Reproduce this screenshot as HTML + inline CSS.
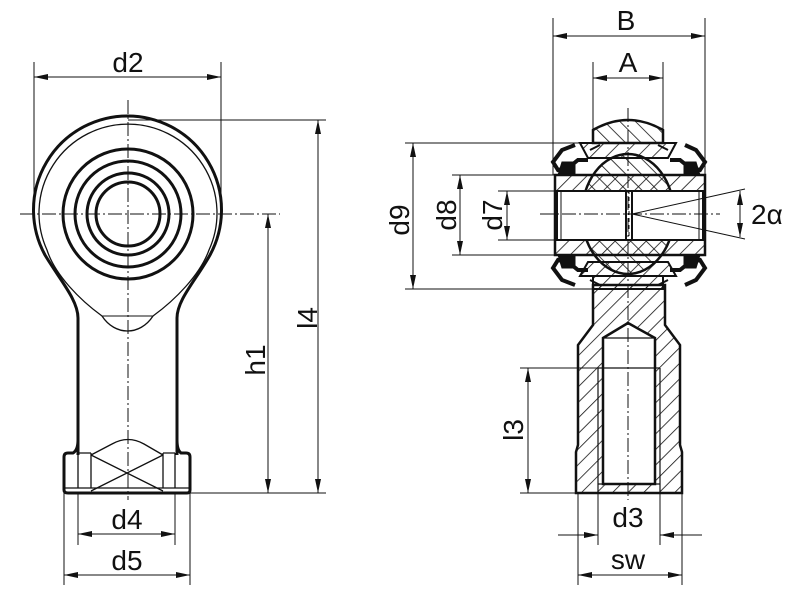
<!DOCTYPE html>
<html><head><meta charset="utf-8"><style>
html,body{margin:0;padding:0;background:#fff;}
svg{display:block;}
text{font-family:"Liberation Sans",sans-serif;font-size:28px;fill:#111;}
</style></head><body>
<svg width="800" height="596" viewBox="0 0 800 596" xmlns="http://www.w3.org/2000/svg">
<defs>
<pattern id="h1" width="11" height="11" patternUnits="userSpaceOnUse" patternTransform="rotate(45)"><line x1="0" y1="0" x2="0" y2="11" stroke="#111" stroke-width="1.6"/></pattern>
<pattern id="h2" width="11" height="11" patternUnits="userSpaceOnUse" patternTransform="rotate(-45)"><line x1="0" y1="0" x2="0" y2="11" stroke="#111" stroke-width="1.6"/></pattern>
<marker id="a" viewBox="0 0 14 6" refX="14" refY="3" markerWidth="14" markerHeight="6" markerUnits="userSpaceOnUse" orient="auto-start-reverse"><path d="M0,0 L14,3 L0,6 z" fill="#111"/></marker>
</defs>
<g fill="none" stroke="#111">
<!-- LEFT VIEW -->
<path d="M78,318 L78,455 M177,318 L177,455" stroke-width="3"/>
<path d="M78,318 C78,300 60,280 45,255 A94,94 0 1 1 210,255 C196,280 177,300 177,318" stroke-width="3"/>
<path d="M102,316 C80,300 55,275 47,250 A89,89 0 1 1 209,250 C200,275 175,300 153,316 C140,336 115,336 102,316 Z" stroke-width="1.3"/>
<line x1="102" y1="316" x2="153" y2="316" stroke-width="1"/>
<circle cx="128" cy="214" r="65" stroke-width="3"/>
<circle cx="128" cy="214" r="53" stroke-width="3"/>
<circle cx="128" cy="214" r="41" stroke-width="3"/>
<circle cx="128" cy="214" r="32" stroke-width="3"/>
<path d="M64,457 L64,490 Q64,493 68,493 L187,493 Q190,493 190,490 L190,457 Q190,453 186,453 L181,453 Q177,450 177,440 M64,457 Q64,453 68,453 L73,453 Q78,450 78,440" stroke-width="3"/>
<path d="M78,453 L78,488 M91,453 L91,488 M163,453 L163,488 M175,453 L175,488 M64,488 L190,488 M78,453 L91,453 M163,453 L175,453" stroke-width="1.3"/>
<path d="M91,455 L112,444 Q128,435 144,444 L163,455 M91,455 L163,491 M163,455 L91,491" stroke-width="1.3"/>
<path d="M128,100 L128,500 M20,214 L280,214" stroke-width="1" stroke-dasharray="14,3,2,3"/>
<path d="M34,62 L34,214 M221,62 L221,214" stroke-width="1"/>
<line x1="34" y1="77" x2="221" y2="77" stroke-width="1" marker-start="url(#a)" marker-end="url(#a)"/>
<path d="M128,120 L326,120 M190,493 L326,493" stroke-width="1"/>
<line x1="318" y1="120" x2="318" y2="493" stroke-width="1" marker-start="url(#a)" marker-end="url(#a)"/>
<line x1="268" y1="214" x2="268" y2="493" stroke-width="1" marker-start="url(#a)" marker-end="url(#a)"/>
<path d="M78,493 L78,545 M175,493 L175,545 M64,493 L64,585 M190,493 L190,585" stroke-width="1"/>
<line x1="78" y1="534" x2="175" y2="534" stroke-width="1" marker-start="url(#a)" marker-end="url(#a)"/>
<line x1="64" y1="575" x2="190" y2="575" stroke-width="1" marker-start="url(#a)" marker-end="url(#a)"/>

<!-- RIGHT VIEW -->
<path d="M593,285 L593,325 L578,345 L578,445 L576,452 L576,493 L682,493 L682,452 L680,445 L680,345 L665,325 L665,285 Z" fill="url(#h1)" stroke-width="2.5"/>
<path d="M603,484 L603,338 L628,323 L655,338 L655,484 Z" fill="#fff" stroke-width="2.5"/>
<path d="M598,368 L598,493 M660,368 L660,493 M598,368 L660,368 M603,338 L655,338 M598,484 L660,484" stroke-width="1.2"/>
<!-- top cap -->
<path d="M593,143 L593,130 Q628,110 663,130 L663,143 Z" fill="url(#h2)" stroke-width="2.5"/>
<!-- bottom cap -->
<path d="M593,276 L663,276 L663,289 L593,289 Z" fill="url(#h1)" stroke-width="2"/>
<!-- race top/bottom -->
<path d="M580,143 L676,143 L668,158 L588,158 Z" fill="url(#h1)" stroke-width="2"/>
<path d="M580,276 L676,276 L668,262 L588,262 Z" fill="url(#h1)" stroke-width="2"/>
<!-- ball -->
<ellipse cx="628" cy="214" rx="46" ry="60" fill="url(#h2)" stroke-width="2.5"/>
<!-- seals -->
<path d="M575,145 L562,150 L553,162 L558,170 L568,168 L578,160 L588,160 M685,145 L696,150 L705,162 L700,170 L690,168 L680,160 L670,160 M575,285 L562,280 L553,268 L558,260 L568,262 L578,270 L588,270 M685,285 L696,280 L705,268 L700,260 L690,262 L680,270 L670,270" stroke-width="4"/>
<path d="M558,175 L562,162 L575,162 L575,175 Z M700,175 L696,162 L684,162 L684,175 Z M558,255 L562,268 L575,268 L575,255 Z M700,255 L696,268 L684,268 L684,255 Z" fill="#111" stroke-width="1"/>
<path d="M590,150 L600,145 M668,150 L658,145 M590,280 L600,285 M668,280 L658,285" stroke-width="2"/>
<!-- inner ring -->
<rect x="555" y="175" width="150" height="80" fill="url(#h1)" stroke-width="2.5"/>
<rect x="557" y="191" width="146" height="49" fill="#fff" stroke-width="2"/>
<path d="M561,191 L561,240 M699,191 L699,240" stroke-width="1"/>
<path d="M626,191 L626,240 M632,191 L632,240" stroke-width="2"/>
<path d="M629,190 L629,240" stroke-width="1" stroke-dasharray="4,3"/>
<path d="M628,108 L628,500 M540,214 L720,214" stroke-width="1" stroke-dasharray="14,3,2,3"/>
<!-- dims right -->
<path d="M553,18 L553,175 M705,18 L705,175 M593,62 L593,143 M663,62 L663,143" stroke-width="1"/>
<line x1="553" y1="36" x2="705" y2="36" stroke-width="1" marker-start="url(#a)" marker-end="url(#a)"/>
<line x1="593" y1="78" x2="663" y2="78" stroke-width="1" marker-start="url(#a)" marker-end="url(#a)"/>
<path d="M405,143 L590,143 M405,289 L593,289 M452,175 L555,175 M452,255 L555,255 M498,191 L557,191 M498,240 L557,240" stroke-width="1"/>
<line x1="413" y1="143" x2="413" y2="289" stroke-width="1" marker-start="url(#a)" marker-end="url(#a)"/>
<line x1="460" y1="175" x2="460" y2="255" stroke-width="1" marker-start="url(#a)" marker-end="url(#a)"/>
<line x1="507" y1="191" x2="507" y2="240" stroke-width="1" marker-start="url(#a)" marker-end="url(#a)"/>
<path d="M632,214 L745,189 M632,214 L745,239" stroke-width="1"/>
<line x1="740" y1="191" x2="740" y2="237" stroke-width="1" marker-start="url(#a)" marker-end="url(#a)"/>
<path d="M520,368 L598,368 M520,493 L576,493" stroke-width="1"/>
<line x1="528" y1="368" x2="528" y2="493" stroke-width="1" marker-start="url(#a)" marker-end="url(#a)"/>
<path d="M598,493 L598,545 M660,493 L660,545 M578,493 L578,585 M682,493 L682,585 M558,535 L598,535 M660,535 L702,535" stroke-width="1"/>
<line x1="578" y1="535" x2="598" y2="535" stroke-width="1" marker-end="url(#a)"/>
<line x1="682" y1="535" x2="660" y2="535" stroke-width="1" marker-end="url(#a)"/>
<line x1="578" y1="575" x2="682" y2="575" stroke-width="1" marker-start="url(#a)" marker-end="url(#a)"/>
</g>
<g>
<text x="128" y="72" text-anchor="middle">d2</text>
<text x="127" y="529" text-anchor="middle">d4</text>
<text x="127" y="570" text-anchor="middle">d5</text>
<text transform="translate(317,318) rotate(-90)" text-anchor="middle">l4</text>
<text transform="translate(265,360) rotate(-90)" text-anchor="middle">h1</text>
<text x="626" y="30" text-anchor="middle">B</text>
<text x="628" y="72" text-anchor="middle">A</text>
<text transform="translate(409,220) rotate(-90)" text-anchor="middle">d9</text>
<text transform="translate(456,215) rotate(-90)" text-anchor="middle">d8</text>
<text transform="translate(502,215) rotate(-90)" text-anchor="middle">d7</text>
<text x="751" y="224">2α</text>
<text transform="translate(523,430) rotate(-90)" text-anchor="middle">l3</text>
<text x="628" y="527" text-anchor="middle">d3</text>
<text x="628" y="569" text-anchor="middle">sw</text>
</g>
</svg>
</body></html>
